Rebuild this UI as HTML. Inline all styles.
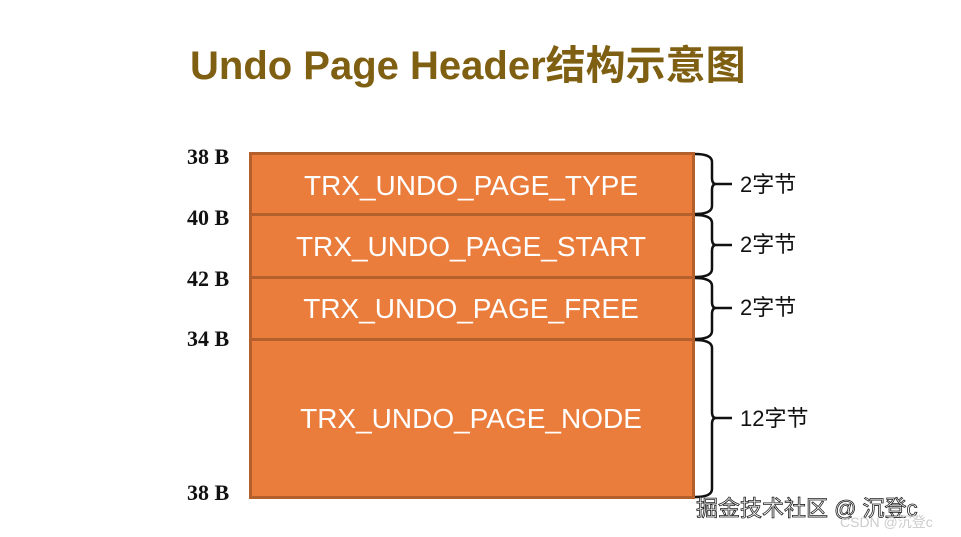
<!DOCTYPE html>
<html><head><meta charset="utf-8"><style>
body{margin:0;width:961px;height:537px;background:#fff;overflow:hidden;position:relative;font-family:"Liberation Sans","Noto Sans CJK SC",sans-serif}
.t{position:absolute;white-space:nowrap}
</style></head><body>
<div class="t" style="left:190px;top:33px;font-size:40px;font-weight:bold;color:#7f5f12;font-family:'Liberation Sans','Noto Sans CJK SC',sans-serif">Undo Page Header结构示意图</div>
<svg width="961" height="537" style="position:absolute;left:0;top:0">
<rect x="250.5" y="153.5" width="443" height="344" fill="#ea7c3c" stroke="#b4602c" stroke-width="3"/>
<g stroke="#b4602c" stroke-width="3">
<line x1="250" y1="214.5" x2="694" y2="214.5"/>
<line x1="250" y1="277.5" x2="694" y2="277.5"/>
<line x1="250" y1="339.5" x2="694" y2="339.5"/>
</g>
<g fill="#fff" font-size="28" font-family="Liberation Sans, sans-serif" text-anchor="middle">
<text x="471" y="195">TRX_UNDO_PAGE_TYPE</text>
<text x="471" y="256">TRX_UNDO_PAGE_START</text>
<text x="471" y="318">TRX_UNDO_PAGE_FREE</text>
<text x="471" y="428">TRX_UNDO_PAGE_NODE</text>
</g>
<g fill="none" stroke="#111" stroke-width="2.5">
<path d="M695 154 Q712 154 712 162 L712 178 Q712 184 716 184 L732 184 M716 184 Q712 184 712 190 L712 206 Q712 214 695 214"/>
<path d="M695 215 Q712 215 712 223 L712 239 Q712 245 716 245 L732 245 M716 245 Q712 245 712 251 L712 269 Q712 277 695 277"/>
<path d="M695 278 Q712 278 712 286 L712 302 Q712 308 716 308 L732 308 M716 308 Q712 308 712 314 L712 331 Q712 339 695 339"/>
<path d="M695 340 Q712 340 712 348 L712 412 Q712 418 716 418 L732 418 M716 418 Q712 418 712 424 L712 489 Q712 497 695 497"/>
</g>
<g font-family="Liberation Serif, serif" font-weight="bold" font-size="22" fill="#111">
<text x="187" y="164">38 B</text>
<text x="187" y="225">40 B</text>
<text x="187" y="286">42 B</text>
<text x="187" y="346">34 B</text>
<text x="187" y="500">38 B</text>
</g>
<g font-size="22" fill="#111" font-family="Liberation Sans, Noto Sans CJK SC, sans-serif">
<text x="740" y="192">2字节</text>
<text x="740" y="252">2字节</text>
<text x="740" y="315">2字节</text>
<text x="740" y="426">12字节</text>
</g>
<text x="696" y="516" font-size="22" fill="#fff" stroke="#222" stroke-width="0.8" font-family="Liberation Sans, Noto Sans CJK SC, sans-serif">掘金技术社区 @ 沉登c</text>
<text x="840" y="527" font-size="14" fill="#ccc" font-family="Liberation Sans, Noto Sans CJK SC, sans-serif">CSDN @沉登c</text>
</svg>
</body></html>
